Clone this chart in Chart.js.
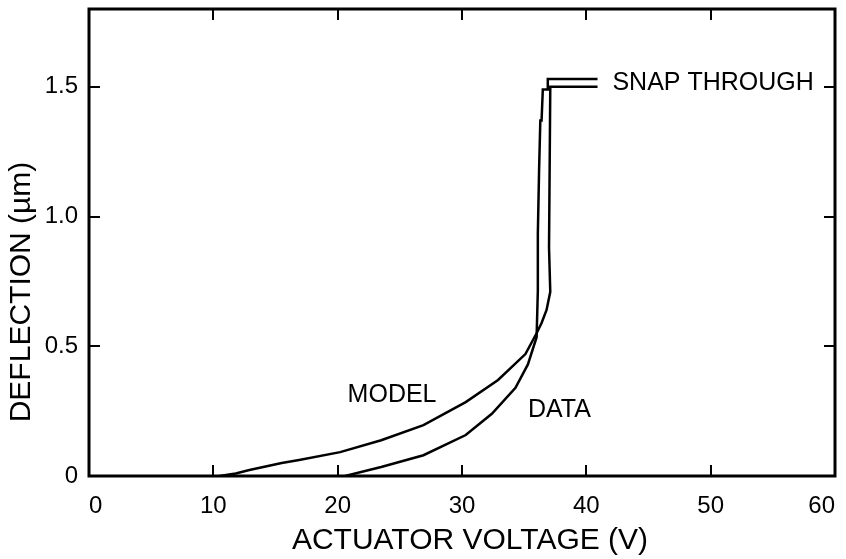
<!DOCTYPE html>
<html>
<head>
<meta charset="utf-8">
<script src="https://cdn.jsdelivr.net/npm/chart.js@4.4.1/dist/chart.umd.min.js"></script>
<style>
  html, body { margin: 0; padding: 0; background: #ffffff; }
  #wrap { width: 846px; height: 559px; position: relative; }
</style>
</head>
<body>
<div id="wrap"><canvas id="c" width="846" height="559"></canvas></div>
<script>
// ---- data ----
const modelVoltage = [10.5, 11.8, 12.9, 15.5, 16.9, 20.2, 23.5, 26.9, 30.3, 32.9, 35.1, 36.0, 36.4, 36.8, 37.1, 37.0, 37.1, 40.9];
const modelDeflection = [0, 0.01, 0.023, 0.05, 0.062, 0.092, 0.138, 0.196, 0.285, 0.37, 0.47, 0.55, 0.59, 0.64, 0.71, 0.88, 1.50, 1.50];

const dataVoltage = [20.6, 23.5, 26.9, 30.3, 32.4, 34.3, 35.3, 36.0, 36.1, 36.1, 36.2, 36.3, 36.4, 36.5, 36.9, 36.9, 40.9];
const dataDeflection = [0, 0.035, 0.08, 0.158, 0.24, 0.34, 0.43, 0.535, 0.715, 0.935, 1.18, 1.37, 1.37, 1.49, 1.49, 1.53, 1.53];

const xTicks = [0, 10, 20, 30, 40, 50, 60];
const yTicks = [0, 0.5, 1.0, 1.5];
const yTickLabels = ['0', '0.5', '1.0', '1.5'];

const labelTexts = ['MODEL', 'DATA', 'SNAP THROUGH'];
const labelVoltage = [20.8, 35.3, 42.1];
const labelDeflection = [0.312, 0.255, 1.515];

const xTitle = 'ACTUATOR VOLTAGE (V)';
const yTitle = 'DEFLECTION (\u00B5m)';

// ---- chart ----
const FONT = '"Liberation Sans", Arial, Helvetica, sans-serif';

const frameAndLabels = {
  id: 'frameAndLabels',
  afterDatasetsDraw(chart) {
    const ctx = chart.ctx;
    const a = chart.chartArea;
    const xs = chart.scales.x, ys = chart.scales.y;
    ctx.save();
    // frame
    ctx.strokeStyle = '#000';
    ctx.lineWidth = 3;
    ctx.strokeRect(a.left, a.top, a.right - a.left, a.bottom - a.top);
    // inward ticks
    ctx.lineWidth = 2;
    const tl = 11;
    ctx.beginPath();
    xTicks.forEach(v => {
      if (v === xs.min || v === xs.max) return;
      const px = Math.round(xs.getPixelForValue(v));
      ctx.moveTo(px, a.bottom); ctx.lineTo(px, a.bottom - tl);
      ctx.moveTo(px, a.top); ctx.lineTo(px, a.top + tl);
    });
    yTicks.forEach(v => {
      if (v === ys.min || v === ys.max) return;
      const py = Math.round(ys.getPixelForValue(v));
      ctx.moveTo(a.left, py); ctx.lineTo(a.left + tl, py);
      ctx.moveTo(a.right, py); ctx.lineTo(a.right - tl, py);
    });
    ctx.stroke();
    // annotations
    ctx.fillStyle = '#000';
    ctx.font = '25px ' + FONT;
    ctx.textAlign = 'left';
    ctx.textBaseline = 'middle';
    labelTexts.forEach((t, i) => {
      ctx.fillText(t, xs.getPixelForValue(labelVoltage[i]), ys.getPixelForValue(labelDeflection[i]));
    });
    // axis titles
    ctx.font = '30px ' + FONT;
    ctx.textAlign = 'center';
    ctx.fillText(xTitle, 470, 541);
    ctx.translate(22, 292);
    ctx.rotate(-Math.PI / 2);
    ctx.fillText(yTitle, 0, 0);
    ctx.restore();
  }
};

new Chart(document.getElementById('c'), {
  type: 'scatter',
  data: {
    datasets: [
      {
        label: 'MODEL',
        data: modelVoltage.map((v, i) => ({ x: v, y: modelDeflection[i] })),
        showLine: true,
        borderColor: '#000',
        borderWidth: 2.5,
        pointRadius: 0,
        tension: 0,
        fill: false
      },
      {
        label: 'DATA',
        data: dataVoltage.map((v, i) => ({ x: v, y: dataDeflection[i] })),
        showLine: true,
        borderColor: '#000',
        borderWidth: 2.5,
        pointRadius: 0,
        tension: 0,
        fill: false
      }
    ]
  },
  options: {
    responsive: false,
    animation: false,
    layout: { padding: { left: 0, right: 11, top: 9, bottom: 0 } },
    plugins: { legend: { display: false }, tooltip: { enabled: false } },
    scales: {
      x: {
        type: 'linear',
        min: 0, max: 60,
        afterBuildTicks: s => { s.ticks = xTicks.map(v => ({ value: v })); },
        afterFit: s => { s.height = 83; s.paddingLeft = 0; s.paddingRight = 0; },
        grid: { display: false, drawTicks: false },
        border: { display: false },
        ticks: {
          padding: 16,
          align: 'inner',
          color: '#000',
          font: { family: FONT, size: 24 },
          maxRotation: 0,
          callback: v => String(v)
        },
        title: { display: false }
      },
      y: {
        type: 'linear',
        min: 0, max: 1.8,
        afterBuildTicks: s => { s.ticks = yTicks.map(v => ({ value: v })); },
        afterFit: s => { s.width = 89; s.paddingTop = 0; s.paddingBottom = 0; },
        grid: { display: false, drawTicks: false },
        border: { display: false },
        ticks: {
          padding: 11,
          color: '#000',
          font: { family: FONT, size: 24 },
          callback: v => yTickLabels[yTicks.indexOf(v)]
        },
        title: { display: false }
      }
    }
  },
  plugins: [frameAndLabels]
});
</script>
</body>
</html>
